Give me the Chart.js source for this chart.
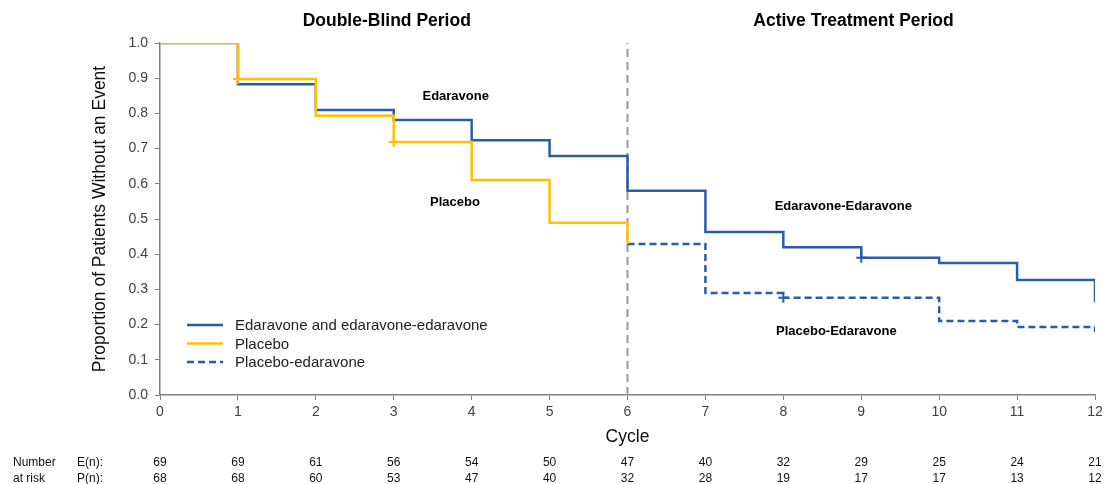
<!DOCTYPE html>
<html>
<head>
<meta charset="utf-8">
<script src="https://cdn.jsdelivr.net/npm/chart.js@4/dist/chart.umd.min.js"></script>
<style>
  html, body { margin: 0; padding: 0; background: #fff; }
  #wrap { width: 1109px; height: 484px; }
</style>
</head>
<body>
<div id="wrap"><canvas id="kmChart" width="1109" height="484"></canvas></div>
<script>
// data
const cycles = [0, 1, 2, 3, 4, 5, 6, 7, 8, 9, 10, 11, 12];
const edaravone = [1.0, 0.883, 0.810, 0.781, 0.724, 0.679, 0.580, 0.463, 0.420, 0.390, 0.375, 0.327, 0.264];
const placeboCycles = [0, 1, 2, 3, 4, 5, 6];
const placebo = [1.0, 0.898, 0.793, 0.719, 0.611, 0.489, 0.429];
const placeboEdaCycles = [6, 7, 8, 9, 10, 11, 12];
const placeboEdaravone = [0.429, 0.290, 0.276, 0.276, 0.210, 0.193, 0.179];

// censored marks
const edaCensorX = [9];
const edaCensorY = [0.390];
const placeboCensorX = [1, 3];
const placeboCensorY = [0.898, 0.719];
const placeboEdaCensorX = [8];
const placeboEdaCensorY = [0.276];

// number at risk
const riskE = [69, 69, 61, 56, 54, 50, 47, 40, 32, 29, 25, 24, 21];
const riskP = [68, 68, 60, 53, 47, 40, 32, 28, 19, 17, 17, 13, 12];

const periodBoundary = 6;
const legendLabels = ["Edaravone and edaravone-edaravone", "Placebo", "Placebo-edaravone"];

const BLUE = "#2b5cab";
const YELLOW = "#ffc000";
const FONT = '"Liberation Sans", Arial, sans-serif';

const toPts = (xs, ys) => xs.map((x, i) => ({ x: x, y: ys[i] }));

// text placed on the plot (cycle, proportion)
const headers = [
  { text: "Double-Blind Period", x: 2.91, y: 21 },
  { text: "Active Treatment Period", x: 8.9, y: 21 }
];
const curveLabels = [
  { text: "Edaravone", x: 3.795, y: 0.847 },
  { text: "Placebo", x: 3.785, y: 0.547 },
  { text: "Edaravone-Edaravone", x: 8.77, y: 0.535 },
  { text: "Placebo-Edaravone", x: 8.68, y: 0.182 }
];

const extras = {
  id: "extras",
  afterDraw(chart) {
    const ctx = chart.ctx;
    const xs = chart.scales.x, ys = chart.scales.y;
    ctx.save();
    ctx.textAlign = "center";
    ctx.textBaseline = "middle";

    ctx.fillStyle = "#000";
    ctx.font = "bold 17.5px " + FONT;
    headers.forEach(h => ctx.fillText(h.text, xs.getPixelForValue(h.x), h.y));

    ctx.font = "bold 13px " + FONT;
    curveLabels.forEach(l => ctx.fillText(l.text, xs.getPixelForValue(l.x), ys.getPixelForValue(l.y)));

    // legend
    const styles = [
      { color: BLUE, dash: [] },
      { color: YELLOW, dash: [] },
      { color: BLUE, dash: [7, 4] }
    ];
    ctx.textAlign = "left";
    ctx.font = "15px " + FONT;
    legendLabels.forEach((t, i) => {
      const y = 325 + i * 18.5;
      ctx.beginPath();
      ctx.setLineDash(styles[i].dash);
      ctx.strokeStyle = styles[i].color;
      ctx.lineWidth = 2.5;
      ctx.moveTo(187, y);
      ctx.lineTo(223, y);
      ctx.stroke();
      ctx.fillStyle = "#222";
      ctx.fillText(t, 235, y + 1);
    });
    ctx.setLineDash([]);

    // number at risk table
    ctx.font = "12px " + FONT;
    ctx.fillStyle = "#111";
    ctx.fillText("Number", 13, 463);
    ctx.fillText("at risk", 13, 479);
    ctx.fillText("E(n):", 77, 463);
    ctx.fillText("P(n):", 77, 479);
    ctx.textAlign = "center";
    cycles.forEach((c, i) => {
      const px = xs.getPixelForValue(c);
      ctx.fillText(String(riskE[i]), px, 463);
      ctx.fillText(String(riskP[i]), px, 479);
    });
    ctx.restore();
  }
};

const ctx = document.getElementById("kmChart").getContext("2d");
const chart = new Chart(ctx, {
  type: "line",
  data: {
    datasets: [
      {
        type: "scatter", data: toPts(placeboCensorX, placeboCensorY), order: 0,
        pointStyle: "cross", pointRadius: 5, borderColor: YELLOW, borderWidth: 2, showLine: false
      },
      {
        type: "scatter", data: toPts(edaCensorX, edaCensorY), order: 0,
        pointStyle: "cross", pointRadius: 5, borderColor: BLUE, borderWidth: 2, showLine: false
      },
      {
        type: "scatter", data: toPts(placeboEdaCensorX, placeboEdaCensorY), order: 0,
        pointStyle: "cross", pointRadius: 5, borderColor: BLUE, borderWidth: 2, showLine: false
      },
      {
        label: legendLabels[1], data: toPts(placeboCycles, placebo), order: 1,
        borderColor: YELLOW, borderWidth: 2.5, stepped: "before", pointRadius: 0, fill: false
      },
      {
        label: legendLabels[0], data: toPts(cycles, edaravone), order: 2,
        borderColor: BLUE, borderWidth: 2.5, stepped: "before", pointRadius: 0, fill: false
      },
      {
        label: legendLabels[2], data: toPts(placeboEdaCycles, placeboEdaravone), order: 3,
        borderColor: BLUE, borderWidth: 2.5, borderDash: [7, 4], stepped: "before", pointRadius: 0, fill: false
      },
      {
        label: "period", data: toPts([periodBoundary, periodBoundary], [0, 1]), order: 10,
        borderColor: "#999", borderWidth: 2, borderDash: [8, 5], pointRadius: 0, fill: false
      }
    ]
  },
  options: {
    responsive: false,
    animation: false,
    events: [],
    layout: { padding: { left: 86, right: 14, top: 43, bottom: 32 } },
    plugins: {
      legend: { display: false },
      tooltip: { enabled: false },
      title: { display: false }
    },
    scales: {
      x: {
        type: "linear", min: 0, max: 12,
        afterFit: s => { s.height = 57; },
        border: { color: "#808080", width: 1.5 },
        grid: { drawOnChartArea: false, drawTicks: true, tickLength: 5, color: "#808080" },
        ticks: { stepSize: 1, padding: 4, color: "#404040", font: { family: FONT, size: 14 } },
        title: { display: true, text: "Cycle", color: "#111", font: { family: FONT, size: 17.5 } }
      },
      y: {
        min: 0, max: 1,
        afterFit: s => { s.width = 74; },
        border: { color: "#808080", width: 1.5 },
        grid: { drawOnChartArea: false, drawTicks: true, tickLength: 5, color: "#808080" },
        ticks: { stepSize: 0.1, padding: 7, color: "#404040", font: { family: FONT, size: 14 },
          callback: v => v.toFixed(1) },
        title: { display: true, text: "Proportion of Patients Without an Event", color: "#111",
          font: { family: FONT, size: 17.5 } }
      }
    }
  },
  plugins: [extras]
});
</script>
</body>
</html>
